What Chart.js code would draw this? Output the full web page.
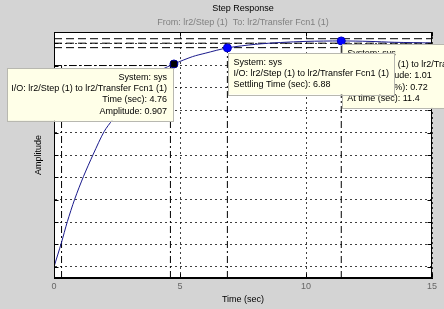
<!DOCTYPE html>
<html>
<head>
<meta charset="utf-8">
<title>Step Response</title>
<script src="https://cdn.jsdelivr.net/npm/chart.js@4/dist/chart.umd.min.js"></script>
<style>
  html, body { margin: 0; padding: 0; background: #d4d4d4; }
  canvas { display: block; }
</style>
</head>
<body>
<canvas id="stepChart" width="444" height="309"></canvas>
<script>
// step response
const timeSec   = [0, 0.29, 0.53, 0.82, 1.17, 1.56, 1.99, 2.32, 2.75, 3.25, 3.75, 4.25, 4.76, 5.5, 6.0, 6.88, 8.0, 9.0, 10.0, 11.4, 12.5, 13.5, 15];
const amplitude = [0, 0.106, 0.202, 0.302, 0.404, 0.504, 0.605, 0.657, 0.72, 0.79, 0.84, 0.88, 0.907, 0.94, 0.955, 0.979, 0.995, 1.003, 1.008, 1.01, 1.008, 1.004, 1.001];

// data tips
const tipTime = [4.76, 6.88, 11.4];
const tipAmp  = [0.907, 0.979, 1.01];
const tipText = [
  ['System: sys', 'I/O: lr2/Step (1) to lr2/Transfer Fcn1 (1)', 'Time (sec): 4.76', 'Amplitude: 0.907'],
  ['System: sys', 'I/O: lr2/Step (1) to lr2/Transfer Fcn1 (1)', 'Settling Time (sec): 6.88'],
  ['System: sys', 'I/O: lr2/Step (1) to lr2/Transfer Fcn1 (1)', 'Peak amplitude: 1.01', 'Overshoot (%): 0.72', 'At time (sec): 11.4']
];

// characteristic markers
const riseTimes  = [0.30, 4.62];
const riseLevel  = 0.9;
const settleTime = 6.88;
const settleBand = [0.98, 1.02];
const finalValue = 1.0;
const peakTime   = 11.4;
const peakAmp    = 1.01;

// axes
const xTicks = [0, 5, 10, 15];
const yTicks = [0, 0.1, 0.2, 0.3, 0.4, 0.5, 0.6, 0.7, 0.8, 0.9, 1.0];
const xRange = [0, 15];
const yRange = [-0.05, 1.05];

const FONT = 'Liberation Sans, Arial, sans-serif';

function seg(x0, y0, x1, y1) {
  return [{x: x0, y: y0}, {x: x1, y: y1}];
}

function charLine(data, dash) {
  return {
    data: data,
    borderColor: '#000',
    borderWidth: 1,
    borderDash: dash,
    pointRadius: 0,
    fill: false
  };
}

const bottom = yRange[0];
const datasets = [
  // selected tip (square) on top of its dot
  { data: [{x: tipTime[0], y: tipAmp[0]}], showLine: false, pointStyle: 'rect',
    pointRadius: 4, pointBackgroundColor: '#000', pointBorderColor: '#000' },
  { data: tipTime.map((t, i) => ({x: t, y: tipAmp[i]})), showLine: false,
    pointRadius: 4, pointBackgroundColor: '#0000ff', pointBorderColor: '#0000c0', pointBorderWidth: 1 },
  { data: timeSec.map((t, i) => ({x: t, y: amplitude[i]})), borderColor: '#1a1a8c',
    borderWidth: 1, pointRadius: 0, tension: 0.3, fill: false },
  // settling band and final value
  charLine(seg(xRange[0], settleBand[0], xRange[1], settleBand[0]), [8, 4]),
  charLine(seg(xRange[0], finalValue, xRange[1], finalValue), [8, 4]),
  charLine(seg(xRange[0], settleBand[1], xRange[1], settleBand[1]), [8, 4]),
  // rise time
  charLine(seg(xRange[0], riseLevel, riseTimes[1], riseLevel), [7, 3, 2, 3]),
  charLine(seg(riseTimes[0], bottom, riseTimes[0], riseLevel), [7, 3, 2, 3]),
  charLine(seg(riseTimes[1], bottom, riseTimes[1], riseLevel), [7, 3, 2, 3]),
  // settling time and peak
  charLine(seg(settleTime, bottom, settleTime, settleBand[0]), [7, 3, 2, 3]),
  charLine(seg(peakTime, bottom, peakTime, peakAmp), [7, 3, 2, 3])
];

// gray figure, white axes, inner ticks, box and data tips
const frame = {
  id: 'frame',
  beforeDraw(chart) {
    const {ctx, chartArea: a} = chart;
    ctx.save();
    ctx.fillStyle = '#d4d4d4';
    ctx.fillRect(0, 0, chart.width, chart.height);
    ctx.fillStyle = '#ffffff';
    ctx.fillRect(a.left, a.top, a.right - a.left, a.bottom - a.top);
    ctx.restore();
  },
  afterDatasetsDraw(chart) {
    const {ctx, chartArea: a, scales} = chart;
    const L = Math.round(a.left) + 0.5, R = Math.round(a.right) - 0.5;
    const T = Math.round(a.top) + 0.5, B = Math.round(a.bottom) - 0.5;
    ctx.save();
    ctx.strokeStyle = '#000';
    ctx.lineWidth = 1;
    ctx.setLineDash([]);
    ctx.beginPath();
    yTicks.forEach(v => {
      const y = Math.round(scales.y.getPixelForValue(v)) + 0.5;
      ctx.moveTo(L, y); ctx.lineTo(L + 4, y);
      ctx.moveTo(R, y); ctx.lineTo(R - 4, y);
    });
    xTicks.forEach(v => {
      const x = Math.round(scales.x.getPixelForValue(v)) + 0.5;
      ctx.moveTo(x, B); ctx.lineTo(x, B - 4);
      ctx.moveTo(x, T); ctx.lineTo(x, T + 4);
    });
    ctx.stroke();
    ctx.strokeRect(L, T, R - L, B - T);
    ctx.restore();
  },
  afterDraw(chart) {
    const {ctx, scales} = chart;
    const lh = 11.2;
    ctx.save();
    ctx.font = '9px ' + FONT;
    ctx.textBaseline = 'middle';
    // back to front: peak, settling, time/amplitude
    [2, 1, 0].forEach(i => {
      const mx = scales.x.getPixelForValue(tipTime[i]);
      const my = scales.y.getPixelForValue(tipAmp[i]);
      const lines = tipText[i];
      const w = Math.max(...lines.map(s => ctx.measureText(s).width)) + 10;
      const h = lines.length * lh + 8;
      const left = i === 0 ? mx - 1 - w : mx + 1;
      const top = my + (i === 0 ? 4 : (i === 1 ? 5 : 3));
      ctx.fillStyle = '#ffffe8';
      ctx.fillRect(left, top, w, h);
      ctx.strokeStyle = '#b8b8b0';
      ctx.strokeRect(Math.round(left) + 0.5, Math.round(top) + 0.5, Math.round(w), Math.round(h));
      ctx.fillStyle = '#000';
      ctx.textAlign = i === 0 ? 'right' : 'left';
      const tx = i === 0 ? left + w - 6 : left + 5;
      lines.forEach((s, k) => ctx.fillText(s, tx, top + 9.5 + k * lh));
    });
    ctx.restore();
  }
};

const ctx = document.getElementById('stepChart').getContext('2d');
new Chart(ctx, {
  type: 'line',
  data: { datasets: datasets },
  options: {
    responsive: false,
    animation: false,
    events: [],
    devicePixelRatio: 1,
    layout: { padding: { top: 0, right: 12, bottom: 0, left: 0 } },
    plugins: {
      legend: { display: false },
      tooltip: { enabled: false },
      title: {
        display: true,
        fullSize: false,
        text: 'Step Response',
        color: '#000',
        font: { family: FONT, size: 9, weight: 'normal' },
        padding: { top: 3.3, bottom: 1.3 }
      },
      subtitle: {
        display: true,
        fullSize: false,
        text: 'From: lr2/Step (1)  To: lr2/Transfer Fcn1 (1)',
        color: '#808080',
        font: { family: FONT, size: 9, weight: 'normal' },
        padding: { top: 2.2, bottom: 3.6 }
      }
    },
    scales: {
      x: {
        type: 'linear',
        min: xRange[0],
        max: xRange[1],
        afterBuildTicks: s => { s.ticks = xTicks.map(v => ({value: v})); },
        afterFit: s => { s.height = 31; },
        ticks: { color: '#666', font: { family: FONT, size: 9 }, padding: 3 },
        grid: { color: 'rgba(0,0,0,0.75)', drawTicks: false, lineWidth: 1 },
        border: { display: true, color: '#000', dash: [2, 3] },
        title: {
          display: true, text: 'Time (sec)', color: '#000',
          font: { family: FONT, size: 9 }, padding: { top: 0, bottom: 3.6 }
        }
      },
      y: {
        type: 'linear',
        min: yRange[0],
        max: yRange[1],
        afterBuildTicks: s => { s.ticks = yTicks.map(v => ({value: v})); },
        afterFit: s => { s.width = 54; },
        ticks: { display: false },
        grid: { color: 'rgba(0,0,0,0.75)', drawTicks: false, lineWidth: 1 },
        border: { display: true, color: '#000', dash: [2, 3] },
        title: {
          display: true, text: 'Amplitude', color: '#000',
          font: { family: FONT, size: 9 }, padding: { top: 33.6, bottom: 0 }
        }
      }
    }
  },
  plugins: [frame]
});
</script>
</body>
</html>
